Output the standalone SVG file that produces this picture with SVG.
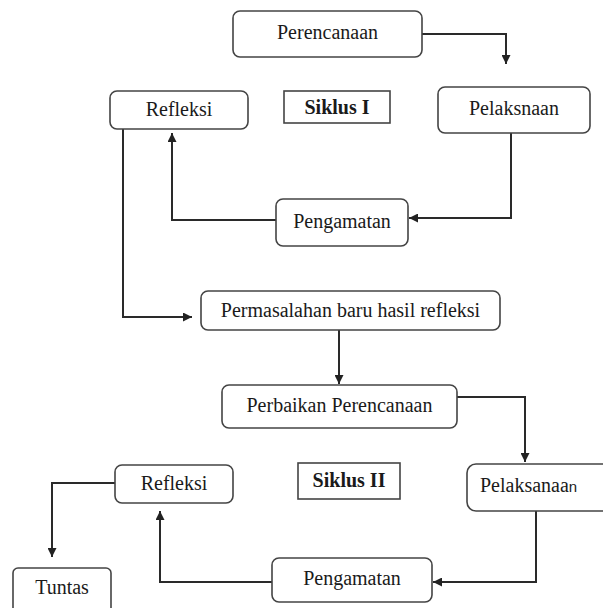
<svg xmlns="http://www.w3.org/2000/svg" width="603" height="608" viewBox="0 0 603 608">
<defs>
<marker id="ah" viewBox="0 0 10 10" refX="10" refY="5" markerWidth="9" markerHeight="9" markerUnits="userSpaceOnUse" orient="auto">
<path d="M0,0 L10,5 L0,10 z" fill="#222"/>
</marker>
<style>
.box{fill:#fff;stroke:#444;stroke-width:1.6}
.lbl{font-family:'Liberation Serif','Times New Roman',serif;font-size:20px;fill:#1a1a1a;text-anchor:middle}
.b{font-weight:bold}
.con{fill:none;stroke:#2a2a2a;stroke-width:2;marker-end:url(#ah)}
</style>
</defs>
<rect width="603" height="608" fill="#fff"/>
<g id="connectors">
<path class="con" d="M422,34 H506 V64"/>
<path class="con" d="M511,133 V218 H409"/>
<path class="con" d="M276,220 H172 V133"/>
<path class="con" d="M123,129 V317 H192"/>
<path class="con" d="M339,330 V384"/>
<path class="con" d="M457,397 H525 V462"/>
<path class="con" d="M536,511 V582 H433"/>
<path class="con" d="M272,582 H160 V511"/>
<path class="con" d="M115,483 H52 V557"/>
</g>
<g font-family="Liberation Serif, Times New Roman, serif">
<g id="perencanaan"><rect class="box" x="233" y="11" width="189" height="46" rx="7"/><text class="lbl" x="327.5" y="39">Perencanaan</text></g>
<g id="pelaksnaan"><rect class="box" x="438" y="87" width="152" height="46" rx="7"/><text class="lbl" x="514" y="115">Pelaksnaan</text></g>
<g id="siklus1"><rect class="box" x="284" y="91" width="106" height="32"/><text class="lbl b" x="337" y="114">Siklus I</text></g>
<g id="refleksi1"><rect class="box" x="110" y="91" width="138" height="38" rx="7"/><text class="lbl" x="179" y="116">Refleksi</text></g>
<g id="pengamatan1"><rect class="box" x="276" y="199" width="132" height="47" rx="7"/><text class="lbl" x="342" y="228">Pengamatan</text></g>
<g id="permasalahan"><rect class="box" x="201" y="291" width="299" height="39" rx="7"/><text class="lbl" x="350.5" y="317">Permasalahan baru hasil refleksi</text></g>
<g id="perbaikan"><rect class="box" x="222" y="385" width="235" height="43" rx="7"/><text class="lbl" x="339.5" y="412">Perbaikan Perencanaan</text></g>
<g id="refleksi2"><rect class="box" x="115" y="465" width="118" height="38" rx="7"/><text class="lbl" x="174" y="490">Refleksi</text></g>
<g id="siklus2"><rect class="box" x="298" y="463" width="102" height="36"/><text class="lbl b" x="349" y="487">Siklus II</text></g>
<g id="pelaksanaan2"><rect class="box" x="467" y="464" width="160" height="47" rx="9"/><text class="lbl" x="480" y="492" style="text-anchor:start">Pelaksanaa<tspan style="font-family:'Liberation Sans',Arial,sans-serif;font-size:15px">n</tspan></text></g>
<g id="pengamatan2"><rect class="box" x="272" y="558" width="160" height="44" rx="7"/><text class="lbl" x="352" y="585">Pengamatan</text></g>
<g id="tuntas"><rect class="box" x="13" y="568" width="98" height="52" rx="5"/><text class="lbl" x="62" y="594">Tuntas</text></g>
</g>
</svg>
